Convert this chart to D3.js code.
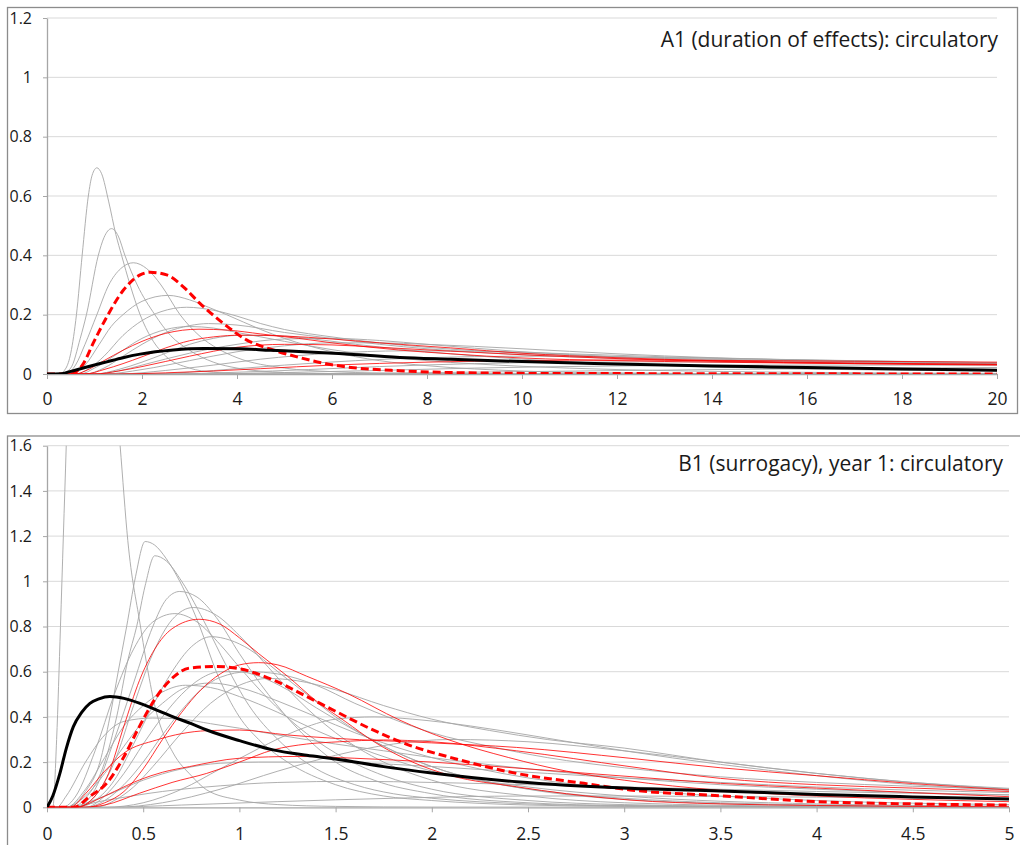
<!DOCTYPE html>
<html>
<head>
<meta charset="utf-8">
<script src="https://cdn.jsdelivr.net/npm/d3@7"></script>
<style>
  body { margin: 0; background: #fff; }
  svg { display: block; }
  text { font-family: "Open Sans", "Noto Sans", sans-serif; fill: #1a1a1a; }
</style>
</head>
<body>
<div id="plot"></div>
<script>
// ---------- data ----------
// panel A1: x in years 0..20
var topXTicks = [0, 2, 4, 6, 8, 10, 12, 14, 16, 18, 20];
var topYTicks = [0, 0.2, 0.4, 0.6, 0.8, 1, 1.2];
var topTitle = "A1 (duration of effects): circulatory";

var topGray = [
  [[0,0],[0.25,0],[0.4,0.02],[0.5,0.07],[0.62,0.2],[0.74,0.4],[0.87,0.6],[0.95,0.67],[1.05,0.695],[1.15,0.675],[1.3,0.58],[1.45,0.47],[1.57,0.4],[1.75,0.3],[1.96,0.2],[2.2,0.12],[2.5,0.06],[3,0.02],[3.5,0.006],[4,0.002],[5,0],[20,0]],
  [[0,0],[0.3,0],[0.5,0.02],[0.7,0.12],[0.83,0.2],[1.08,0.4],[1.2,0.46],[1.36,0.49],[1.5,0.465],[1.64,0.4],[1.9,0.3],[2.27,0.2],[2.6,0.13],[3,0.08],[3.5,0.04],[4,0.02],[5,0.005],[6,0.001],[20,0]],
  [[0,0],[0.4,0],[0.6,0.03],[0.8,0.1],[1.05,0.2],[1.3,0.3],[1.55,0.355],[1.82,0.375],[2.1,0.355],[2.4,0.3],[2.8,0.2],[3.2,0.13],[3.6,0.085],[4,0.055],[5,0.02],[6,0.008],[8,0.001],[20,0]],
  [[0,0],[0.5,0],[0.8,0.03],[1.1,0.1],[1.35,0.16],[1.6,0.2],[2,0.245],[2.55,0.265],[3,0.25],[3.4,0.225],[3.78,0.2],[4.5,0.15],[5,0.12],[6,0.075],[7,0.045],[8,0.028],[10,0.01],[12,0.004],[15,0.001],[20,0]],
  [[0,0],[0.6,0],[0.9,0.02],[1.2,0.06],[1.6,0.13],[2,0.18],[2.4,0.21],[2.94,0.225],[3.5,0.215],[4,0.195],[4.5,0.17],[5,0.15],[6,0.125],[7,0.105],[8,0.09],[10,0.07],[12,0.058],[14,0.05],[17,0.042],[20,0.036]],
  [[0,0],[0.8,0],[1.2,0.02],[1.6,0.06],[2,0.1],[2.5,0.14],[3,0.163],[3.4,0.17],[4,0.165],[5,0.14],[6,0.12],[7,0.1],[8,0.085],[10,0.065],[12,0.052],[14,0.045],[17,0.037],[20,0.032]],
  [[0,0],[1,0],[1.5,0.01],[2,0.03],[3,0.07],[4,0.1],[5,0.118],[6,0.12],[7,0.113],[8,0.1],[10,0.075],[12,0.058],[14,0.048],[17,0.04],[20,0.035]],
  [[0,0],[1.2,0],[2,0.015],[3,0.045],[4,0.075],[5,0.095],[6,0.105],[7,0.105],[8,0.1],[10,0.085],[12,0.068],[14,0.055],[17,0.043],[20,0.037]],
  [[0,0],[1.5,0],[2.5,0.012],[3.5,0.03],[4.5,0.05],[6,0.07],[7.5,0.078],[9,0.077],[11,0.068],[13,0.058],[16,0.047],[20,0.038]],
  [[0,0],[2,0],[3,0.006],[4,0.018],[5,0.03],[6.5,0.045],[8,0.055],[10,0.06],[12,0.058],[14,0.053],[17,0.045],[20,0.038]],
  [[0,0],[2.5,0],[4,0.006],[5.5,0.015],[7,0.025],[9,0.035],[11,0.04],[13,0.041],[16,0.038],[20,0.032]],
  [[0,0],[1,0],[1.5,0.015],[2,0.04],[2.5,0.07],[3,0.1],[3.5,0.12],[4,0.13],[4.7,0.13],[5.5,0.12],[6.5,0.1],[8,0.075],[10,0.05],[12,0.034],[15,0.02],[20,0.01]],
  [[0,0],[0.7,0],[1,0.02],[1.5,0.07],[2,0.12],[2.5,0.15],[3,0.16],[3.5,0.155],[4,0.14],[5,0.11],[6,0.082],[7,0.06],[8,0.045],[10,0.026],[12,0.015],[15,0.007],[20,0.002]],
  [[0,0],[3,0],[5,0.005],[7,0.012],[9,0.02],[12,0.027],[15,0.03],[20,0.03]],
  [[0,0],[4,0],[7,0.003],[10,0.008],[14,0.015],[20,0.022]]
];
var topRed = [
  [[0,0],[0.6,0],[0.8,0.01],[1.2,0.045],[1.6,0.08],[2,0.11],[2.5,0.137],[3.2,0.151],[3.8,0.148],[4.5,0.135],[5.3,0.12],[6,0.105],[7.4,0.081],[8.5,0.068],[10,0.054],[12,0.045],[14,0.04],[17,0.035],[20,0.032]],
  [[0,0],[0.8,0],[1.2,0.015],[1.6,0.035],[2,0.058],[2.5,0.088],[3,0.112],[3.5,0.125],[4.1,0.131],[5,0.128],[6,0.118],[7,0.105],[8.5,0.088],[10,0.07],[12,0.055],[14,0.045],[17,0.037],[20,0.033]],
  [[0,0],[1.5,0],[2.5,0.004],[3.5,0.01],[4.5,0.018],[6,0.03],[8,0.04],[10,0.045],[12,0.047],[14,0.046],[17,0.043],[20,0.04]],
  [[0,0],[1,0],[1.5,0.01],[2,0.025],[3,0.06],[4,0.09],[5,0.1],[6,0.098],[7,0.09],[8.5,0.077],[10,0.065],[12,0.052],[14,0.043],[17,0.035],[20,0.03]]
];
var topDashed = [[0,0],[0.5,0],[0.62,0.008],[0.77,0.036],[0.97,0.103],[1.26,0.193],[1.61,0.283],[1.96,0.334],[2.17,0.343],[2.52,0.334],[2.87,0.294],[3.22,0.238],[3.71,0.171],[4.2,0.115],[4.76,0.081],[5.33,0.055],[6,0.031],[6.4,0.022],[7.43,0.011],[8.5,0.005],[10.2,0.002],[14,0.001],[20,0]];
var topBlack = [[0,0],[0.3,0.001],[0.48,0.008],[0.8,0.022],[1.26,0.041],[1.6,0.055],[1.96,0.067],[2.66,0.081],[3.3,0.086],[4.06,0.085],[4.7,0.08],[5.3,0.076],[6.03,0.07],[7.43,0.056],[8.5,0.05],[10,0.042],[12,0.034],[14,0.027],[16,0.022],[18,0.017],[20,0.013]];

// panel B1: x in years 0..5
var botXTicks = [0, 0.5, 1, 1.5, 2, 2.5, 3, 3.5, 4, 4.5, 5];
var botYTicks = [0, 0.2, 0.4, 0.6, 0.8, 1, 1.2, 1.4, 1.6];
var botTitle = "B1 (surrogacy), year 1: circulatory";

var botGray = [
  [[0,0],[0.03,0],[0.05,0.3],[0.07,0.8],[0.085,1.2],[0.1,1.6],[0.12,2.2],[0.2,3],[0.3,2.4],[0.38,1.6],[0.42,1.18],[0.483,0.815],[0.57,0.416],[0.656,0.24],[0.75,0.14],[0.83,0.077],[1,0.032],[1.2,0.012],[1.5,0.004],[2,0.001],[5,0]],
  [[0,0],[0.1,0],[0.15,0.02],[0.2,0.07],[0.275,0.2],[0.327,0.4],[0.37,0.6],[0.414,0.8],[0.46,1.02],[0.51,1.176],[0.56,1.16],[0.62,1.1],[0.69,1],[0.794,0.8],[0.88,0.6],[1,0.4],[1.1,0.3],[1.25,0.2],[1.5,0.1],[1.75,0.05],[2,0.03],[2.5,0.01],[3,0.004],[5,0]],
  [[0,0],[0.12,0],[0.2,0.04],[0.3,0.2],[0.362,0.4],[0.42,0.65],[0.466,0.8],[0.51,0.98],[0.56,1.113],[0.62,1.09],[0.7,1],[0.83,0.8],[0.93,0.63],[1.05,0.45],[1.2,0.3],[1.4,0.17],[1.6,0.1],[1.8,0.06],[2,0.04],[2.5,0.015],[3,0.006],[4,0.001],[5,0]],
  [[0,0],[0.15,0],[0.25,0.08],[0.35,0.3],[0.45,0.55],[0.55,0.8],[0.62,0.92],[0.69,0.955],[0.78,0.93],[0.88,0.84],[1,0.68],[1.15,0.5],[1.3,0.35],[1.5,0.2],[1.7,0.12],[2,0.06],[2.5,0.02],[3,0.008],[5,0]],
  [[0,0],[0.15,0],[0.25,0.05],[0.35,0.2],[0.45,0.45],[0.55,0.68],[0.65,0.83],[0.76,0.884],[0.88,0.85],[1,0.76],[1.15,0.62],[1.3,0.48],[1.5,0.33],[1.75,0.2],[2,0.12],[2.5,0.05],[3,0.02],[4,0.004],[5,0]],
  [[0,0],[0.08,0],[0.15,0.05],[0.25,0.25],[0.35,0.5],[0.45,0.7],[0.55,0.82],[0.665,0.857],[0.78,0.82],[0.9,0.72],[1,0.62],[1.15,0.48],[1.3,0.36],[1.5,0.24],[1.75,0.14],[2,0.08],[2.5,0.03],[3,0.012],[4,0.002],[5,0]],
  [[0,0],[0.15,0],[0.25,0.03],[0.35,0.12],[0.45,0.28],[0.55,0.45],[0.65,0.6],[0.75,0.71],[0.855,0.755],[0.95,0.74],[1.05,0.7],[1.2,0.6],[1.35,0.5],[1.5,0.4],[1.75,0.27],[2,0.18],[2.5,0.08],[3,0.035],[4,0.008],[5,0.002]],
  [[0,0],[0.2,0],[0.3,0.03],[0.4,0.1],[0.5,0.2],[0.6,0.32],[0.7,0.43],[0.8,0.52],[0.9,0.575],[1.05,0.6],[1.2,0.59],[1.4,0.54],[1.6,0.46],[1.8,0.39],[2,0.33],[2.3,0.27],[2.6,0.22],[3,0.175],[3.5,0.135],[4,0.11],[4.5,0.093],[5,0.08]],
  [[0,0],[0.25,0],[0.35,0.03],[0.45,0.09],[0.55,0.18],[0.7,0.33],[0.85,0.46],[1,0.54],[1.15,0.57],[1.3,0.56],[1.5,0.52],[1.75,0.45],[2,0.39],[2.3,0.34],[2.6,0.3],[3,0.262],[3.5,0.2],[4,0.15],[4.5,0.11],[5,0.084]],
  [[0,0],[0.1,0],[0.2,0.05],[0.3,0.15],[0.4,0.27],[0.5,0.38],[0.6,0.46],[0.72,0.53],[0.85,0.55],[1,0.53],[1.2,0.47],[1.4,0.4],[1.6,0.33],[1.8,0.27],[2,0.22],[2.5,0.13],[3,0.08],[3.5,0.05],[4,0.03],[5,0.012]],
  [[0,0],[0.1,0],[0.2,0.08],[0.3,0.22],[0.4,0.36],[0.5,0.45],[0.6,0.51],[0.72,0.54],[0.85,0.53],[1,0.49],[1.2,0.42],[1.4,0.34],[1.6,0.27],[1.8,0.21],[2,0.16],[2.5,0.09],[3,0.05],[4,0.015],[5,0.005]],
  [[0,0],[0.2,0],[0.3,0.05],[0.4,0.15],[0.5,0.28],[0.6,0.4],[0.7,0.5],[0.8,0.57],[0.9,0.6],[1,0.6],[1.1,0.58],[1.25,0.52],[1.4,0.44],[1.6,0.34],[1.8,0.25],[2,0.18],[2.3,0.11],[2.6,0.07],[3,0.04],[3.5,0.02],[4,0.01],[5,0.003]],
  [[0,0],[0.05,0],[0.1,0.05],[0.2,0.2],[0.3,0.32],[0.4,0.38],[0.55,0.395],[0.7,0.39],[0.85,0.37],[1,0.35],[1.2,0.32],[1.5,0.28],[1.75,0.25],[2,0.22],[2.5,0.17],[3,0.13],[3.5,0.1],[4,0.08],[4.5,0.065],[5,0.055]],
  [[0,0],[0.3,0],[0.5,0.02],[0.7,0.08],[0.9,0.17],[1.1,0.26],[1.3,0.34],[1.5,0.39],[1.7,0.4],[1.9,0.39],[2.2,0.36],[2.5,0.32],[3,0.25],[3.5,0.19],[4,0.14],[4.5,0.1],[5,0.075]],
  [[0,0],[0.35,0],[0.6,0.02],[0.9,0.08],[1.2,0.16],[1.5,0.23],[1.8,0.28],[2.1,0.3],[2.5,0.29],[3,0.25],[3.5,0.2],[4,0.15],[4.5,0.11],[5,0.08]],
  [[0,0],[0.1,0],[0.3,0.05],[0.5,0.12],[0.7,0.17],[0.9,0.195],[1.1,0.2],[1.4,0.2],[1.8,0.19],[2.2,0.17],[2.6,0.15],[3,0.13],[3.5,0.11],[4,0.09],[5,0.065]],
  [[0,0],[0.1,0],[0.3,0.03],[0.6,0.07],[0.9,0.095],[1.2,0.11],[1.6,0.115],[2,0.11],[2.5,0.1],[3,0.09],[4,0.07],[5,0.055]],
  [[0,0],[0.3,0],[0.7,0.01],[1.2,0.025],[1.8,0.04],[2.5,0.05],[3,0.05],[4,0.045],[5,0.04]]
];
var botRed = [
  [[0,0],[0.15,0],[0.25,0.05],[0.32,0.15],[0.4,0.36],[0.48,0.56],[0.56,0.7],[0.65,0.79],[0.79,0.832],[0.9,0.81],[1,0.75],[1.1,0.68],[1.25,0.58],[1.4,0.47],[1.55,0.38],[1.7,0.29],[1.9,0.2],[2.1,0.14],[2.44,0.091],[2.7,0.06],[3.03,0.032],[3.5,0.015],[4,0.008],[5,0.002]],
  [[0,0],[0.2,0],[0.3,0.02],[0.4,0.07],[0.5,0.17],[0.6,0.3],[0.7,0.42],[0.8,0.52],[0.9,0.59],[1,0.63],[1.1,0.64],[1.2,0.63],[1.35,0.58],[1.57,0.5],[1.83,0.387],[2.09,0.298],[2.4,0.22],[2.7,0.16],[3,0.12],[3.5,0.075],[4,0.05],[4.5,0.035],[5,0.025]],
  [[0,0],[0.12,0],[0.2,0.06],[0.3,0.16],[0.4,0.24],[0.57,0.298],[0.83,0.339],[1,0.342],[1.25,0.32],[1.5,0.305],[2,0.285],[2.44,0.265],[3.03,0.217],[3.5,0.175],[4,0.14],[4.5,0.105],[5,0.077]],
  [[0,0],[0.15,0],[0.25,0.03],[0.35,0.07],[0.48,0.121],[0.6,0.155],[0.74,0.18],[1,0.217],[1.3,0.225],[1.6,0.217],[2,0.2],[2.5,0.17],[3.03,0.136],[3.5,0.106],[4,0.085],[4.5,0.065],[5,0.047]],
  [[0,0],[0.2,0],[0.3,0.01],[0.48,0.062],[0.65,0.11],[0.83,0.15],[1,0.2],[1.175,0.254],[1.35,0.28],[1.52,0.29],[1.75,0.298],[2,0.29],[2.44,0.25],[3.03,0.18],[3.5,0.128],[4,0.1],[4.5,0.085],[5,0.07]]
];
var botDashed = [[0,0],[0.14,0],[0.22,0.047],[0.31,0.106],[0.4,0.224],[0.48,0.357],[0.57,0.49],[0.66,0.578],[0.74,0.616],[0.88,0.623],[1,0.613],[1.175,0.564],[1.35,0.49],[1.52,0.416],[1.7,0.34],[1.9,0.27],[2.1,0.22],[2.44,0.15],[2.79,0.106],[3.03,0.077],[3.5,0.051],[4,0.025],[4.5,0.015],[5,0.01]];
var botBlack = [[0,0],[0.03,0.05],[0.067,0.15],[0.1,0.26],[0.137,0.357],[0.18,0.42],[0.223,0.46],[0.27,0.48],[0.327,0.49],[0.4,0.482],[0.483,0.46],[0.57,0.43],[0.656,0.4],[0.75,0.37],[0.83,0.342],[1,0.295],[1.175,0.254],[1.35,0.23],[1.5,0.214],[1.75,0.18],[2,0.152],[2.44,0.113],[3.03,0.084],[3.5,0.072],[4,0.057],[4.5,0.046],[5,0.037]];

// ---------- drawing ----------
var W = 1020, H = 845;

var svg = d3.select("#plot")
  .append("svg")
  .attr("width", W)
  .attr("height", H);

function panel(cfg) {
  // frame round the chart
  svg.append("rect")
    .attr("x", cfg.frame[0]).attr("y", cfg.frame[1])
    .attr("width", cfg.frame[2]).attr("height", cfg.frame[3])
    .attr("fill", "#fff")
    .attr("stroke", "#8c8c8c")
    .attr("stroke-width", 1.3);

  var x = d3.scaleLinear().domain(cfg.xDomain).range([cfg.left, cfg.right]);
  var y = d3.scaleLinear().domain(cfg.yDomain).range([cfg.bottom, cfg.top]);

  // horizontal gridlines
  svg.append("g")
    .selectAll("line")
    .data(cfg.yTicks.filter(function(d){ return d > 0; }))
    .enter().append("line")
      .attr("x1", cfg.left).attr("x2", cfg.right)
      .attr("y1", function(d){ return y(d); })
      .attr("y2", function(d){ return y(d); })
      .attr("stroke", "#d9d9d9")
      .attr("stroke-width", 1);

  // x axis
  var xa = svg.append("g")
    .attr("transform", "translate(0," + cfg.bottom + ")")
    .call(d3.axisBottom(x).tickValues(cfg.xTicks).tickSize(5).tickSizeOuter(0)
      .tickFormat(function(d){ return String(d); }));
  xa.select(".domain").attr("stroke", "#a6a6a6").attr("stroke-width", 1.3);
  xa.selectAll(".tick line").attr("stroke", "#a6a6a6");
  xa.selectAll(".tick text")
    .attr("y", cfg.xLabelBase).attr("dy", null)
    .style("font-size", "17.5px");

  // y axis
  var ya = svg.append("g")
    .attr("transform", "translate(" + cfg.left + ",0)")
    .call(d3.axisLeft(y).tickValues(cfg.yTicks).tickSize(4).tickSizeOuter(0).tickPadding(11)
      .tickFormat(function(d){ return String(+d.toFixed(1)); }));
  ya.select(".domain").attr("stroke", "#a6a6a6").attr("stroke-width", 1.3);
  ya.selectAll(".tick line").attr("stroke", "#a6a6a6");
  ya.selectAll(".tick text").style("font-size", "16px");

  // clip so curves stop at the plot edge
  svg.append("clipPath").attr("id", cfg.id)
    .append("rect")
    .attr("x", cfg.left).attr("y", cfg.top)
    .attr("width", cfg.right - cfg.left).attr("height", cfg.bottom - cfg.top);

  var line = d3.line()
    .x(function(d){ return x(d[0]); })
    .y(function(d){ return y(d[1]); })
    .curve(d3.curveMonotoneX);

  var g = svg.append("g").attr("clip-path", "url(#" + cfg.id + ")");

  g.selectAll(".gray")
    .data(cfg.gray).enter().append("path")
      .attr("class", "gray")
      .attr("d", line)
      .attr("fill", "none")
      .attr("stroke", "#a6a6a6")
      .attr("stroke-width", 0.9);

  g.selectAll(".red")
    .data(cfg.red).enter().append("path")
      .attr("class", "red")
      .attr("d", line)
      .attr("fill", "none")
      .attr("stroke", "#ff0000")
      .attr("stroke-width", 0.8);

  g.append("path")
    .datum(cfg.dashed)
    .attr("d", line)
    .attr("fill", "none")
    .attr("stroke", "#ff0000")
    .attr("stroke-width", 3)
    .attr("stroke-dasharray", "8,4");

  g.append("path")
    .datum(cfg.black)
    .attr("d", line)
    .attr("fill", "none")
    .attr("stroke", "#000")
    .attr("stroke-width", 3);

  // chart title, top right
  svg.append("text")
    .attr("x", cfg.titleX).attr("y", cfg.titleY)
    .attr("text-anchor", "end")
    .style("font-size", "21px")
    .text(cfg.title);
}

panel({
  id: "clipA", frame: [7.5, 7.5, 1010, 406],
  left: 47, right: 997, top: 18, bottom: 374,
  xDomain: [0, 20], yDomain: [0, 1.2],
  xTicks: topXTicks, yTicks: topYTicks, xLabelBase: 31,
  gray: topGray, red: topRed, dashed: topDashed, black: topBlack,
  title: topTitle, titleX: 998, titleY: 46.5
});

panel({
  id: "clipB", frame: [7.5, 436, 1020, 420],
  left: 47, right: 1009, top: 445.7, bottom: 807.3,
  xDomain: [0, 5], yDomain: [0, 1.6],
  xTicks: botXTicks, yTicks: botYTicks, xLabelBase: 32.5,
  gray: botGray, red: botRed, dashed: botDashed, black: botBlack,
  title: botTitle, titleX: 1003, titleY: 471
});
</script>
</body>
</html>
